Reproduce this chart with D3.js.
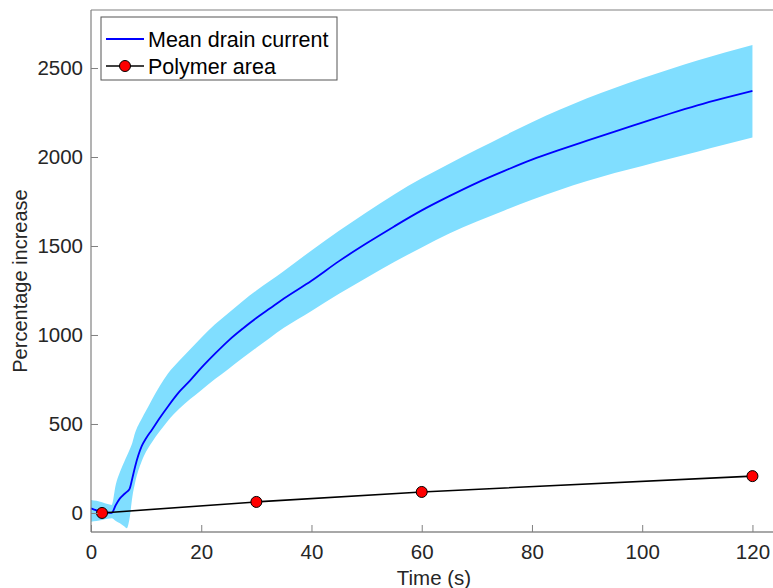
<!DOCTYPE html>
<html>
<head>
<meta charset="utf-8">
<script src="https://cdn.jsdelivr.net/npm/d3@7"></script>
<style>
  body { margin: 0; background: #fff; }
  svg { display: block; font-family: "Liberation Sans", Arial, Helvetica, sans-serif; }
</style>
</head>
<body>
<svg id="chart" width="773" height="588"></svg>
<script>
// ---- data ----
const time = [0,1,2,3,3.75,4.5,5.25,6,6.5,7,7.5,8,9.2,10,11,12.5,14,16,18,20,22.5,25,27.5,30,32.5,35,40,45,50,55,60,65,70,75,80,85,90,95,100,105,110,115,120];
const meanCurrent = [26,15,6,2,0,45,82,105,118,135,195,260,375,420,465,535,600,680,745,815,895,970,1035,1095,1150,1205,1305,1415,1515,1610,1700,1780,1855,1922,1985,2040,2092,2143,2193,2243,2290,2332,2371];
const bandUpper = [73,68,60,50,45,160,230,285,320,355,395,450,530,575,633,715,785,855,920,985,1060,1125,1190,1250,1305,1360,1475,1585,1690,1790,1880,1962,2042,2120,2195,2265,2330,2388,2442,2493,2542,2587,2629];
const bandLower = [-49,-45,-40,-33,-30,-45,-58,-75,-86,-30,90,170,290,345,395,460,520,585,640,690,752,810,870,928,985,1040,1135,1232,1322,1410,1492,1570,1638,1700,1760,1815,1865,1910,1950,1990,2030,2070,2109];
const polymerTime = [2,30,60,120];
const polymerArea = [0,62,118,207];
const xTicks = [0,20,40,60,80,100,120];
const yTicks = [0,500,1000,1500,2000,2500];
const seriesNames = ["Mean drain current","Polymer area"];

// ---- layout ----
const svg = d3.select("#chart");
const mLeft = 91, mRight = 780, mTop = 10, mBottom = 532;
const x = d3.scaleLinear().domain([0,125]).range([mLeft, mRight]);
const y = d3.scaleLinear().domain([-107, 2826]).range([mBottom, mTop]);

const axisColor = "#808080";
const textColor = "#262626";
const fontFam = "'Liberation Sans', Arial, Helvetica, sans-serif";

const plot = svg.append("g");

// band
const area = d3.area()
  .x((d,i) => x(time[i]))
  .y0((d,i) => y(bandLower[i]))
  .y1((d,i) => y(bandUpper[i]))
  .curve(d3.curveMonotoneX);
plot.append("path").datum(time).attr("d", area).attr("fill", "#80deff");

// mean line
const meanLine = d3.line().x((d,i) => x(time[i])).y(d => y(d)).curve(d3.curveMonotoneX);
plot.append("path").datum(meanCurrent).attr("d", meanLine)
  .attr("fill", "none").attr("stroke", "#0000ff").attr("stroke-width", 1.8);

// polymer line
const polyLine = d3.line().x((d,i) => x(polymerTime[i])).y(d => y(d));
plot.append("path").datum(polymerArea).attr("d", polyLine)
  .attr("fill", "none").attr("stroke", "#000").attr("stroke-width", 1.6);
plot.selectAll("circle.pm").data(polymerArea).enter().append("circle")
  .attr("cx", (d,i) => x(polymerTime[i])).attr("cy", d => y(d)).attr("r", 5.5)
  .attr("fill", "#ff0000").attr("stroke", "#000").attr("stroke-width", 1);

// axes
const xAxis = d3.axisBottom(x).tickValues(xTicks).tickFormat(d3.format("d")).tickSize(-7).tickPadding(12);
const gx = svg.append("g").attr("transform", `translate(0,${mBottom})`).call(xAxis);
const yAxis = d3.axisLeft(y).tickValues(yTicks).tickFormat(d3.format("d")).tickSize(-7).tickPadding(8);
const gy = svg.append("g").attr("transform", `translate(${mLeft},0)`).call(yAxis);
[gx, gy].forEach(g => {
  g.select(".domain").attr("stroke", axisColor).attr("stroke-width", 1.2);
  g.selectAll(".tick line").attr("stroke", axisColor);
  g.selectAll(".tick text").attr("fill", textColor).attr("font-size", 20.5)
    .attr("font-family", fontFam);
});
gx.select(".domain").attr("d", `M${mLeft},0H${mRight}`).attr("stroke", "#a8a8a8").attr("stroke-width", 2);
gy.select(".domain").attr("d", `M0,${mBottom}V${mTop}`);
// top box line
svg.append("line").attr("x1", mLeft).attr("x2", mRight).attr("y1", mTop).attr("y2", mTop)
  .attr("stroke", axisColor).attr("stroke-width", 1.2);

// axis labels
svg.append("text").attr("x", 434).attr("y", 585).attr("text-anchor", "middle")
  .attr("font-size", 20.5).attr("fill", textColor).attr("font-family", fontFam).text("Time (s)");
svg.append("text").attr("transform", `translate(27,281) rotate(-90)`)
  .attr("text-anchor", "middle").attr("font-size", 20).attr("fill", textColor)
  .attr("font-family", fontFam).text("Percentage increase");

// legend
const lg = svg.append("g").attr("transform", "translate(101,17)");
lg.append("rect").attr("width", 236).attr("height", 63).attr("fill", "#fff")
  .attr("stroke", "#555").attr("stroke-width", 1);
const rows = [22, 49];
lg.append("line").attr("x1", 5).attr("x2", 43).attr("y1", rows[0]).attr("y2", rows[0])
  .attr("stroke", "#0000ff").attr("stroke-width", 1.8);
lg.append("line").attr("x1", 5).attr("x2", 43).attr("y1", rows[1]).attr("y2", rows[1])
  .attr("stroke", "#000").attr("stroke-width", 1.6);
lg.append("circle").attr("cx", 24).attr("cy", rows[1]).attr("r", 5.5)
  .attr("fill", "#ff0000").attr("stroke", "#000").attr("stroke-width", 1);
lg.selectAll("text.lt").data(seriesNames).enter().append("text")
  .attr("x", 47).attr("y", (d,i) => rows[i]).attr("dy", "0.35em")
  .attr("font-size", 21.5).attr("fill", "#000").attr("font-family", fontFam).text(d => d);
</script>
</body>
</html>
